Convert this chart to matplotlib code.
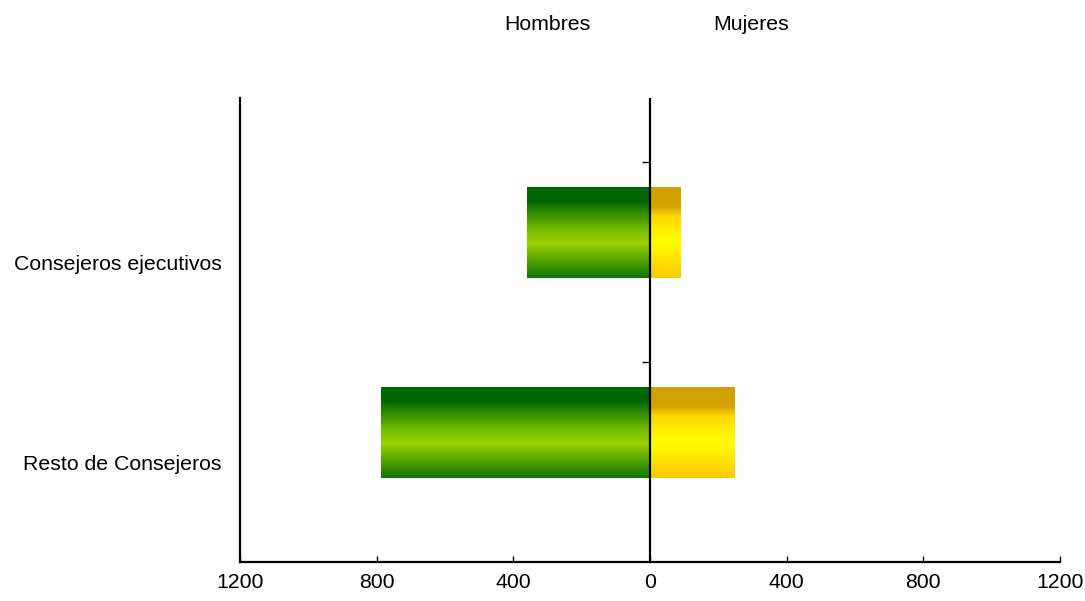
import numpy as np
import matplotlib
matplotlib.use("Agg")
import matplotlib.pyplot as plt
from matplotlib.colors import LinearSegmentedColormap
from matplotlib.patches import Rectangle
from matplotlib.ticker import FuncFormatter

plt.rcParams['font.family'] = ['Liberation Sans', 'DejaVu Sans']

categories = ["Consejeros ejecutivos", "Resto de Consejeros"]
hombres = [361, 788]
mujeres = [88, 246]
xticks = [-1200, -800, -400, 0, 400, 800, 1200]

green_cmap = LinearSegmentedColormap.from_list("g", [
    (0.0, (0/255, 105/255, 0/255)),
    (0.15, (0/255, 100/255, 0/255)),
    (0.45, (110/255, 185/255, 0/255)),
    (0.62, (155/255, 210/255, 0/255)),
    (0.82, (80/255, 160/255, 0/255)),
    (1.0, (15/255, 115/255, 10/255)),
])
yellow_cmap = LinearSegmentedColormap.from_list("y", [
    (0.0, (210/255, 160/255, 0/255)),
    (0.22, (215/255, 165/255, 0/255)),
    (0.32, (255/255, 215/255, 0/255)),
    (0.60, (255/255, 255/255, 0/255)),
    (0.85, (255/255, 220/255, 0/255)),
    (1.0, (250/255, 200/255, 0/255)),
])

W, H = 1085, 601
fig = plt.figure(figsize=(W / 100, H / 100), dpi=100)
left, right, top, bottom = 240, 1060, 98, 562
ax = fig.add_axes([left / W, (H - bottom) / H, (right - left) / W, (bottom - top) / H])

ypos = np.arange(len(categories))
offset = -0.15
height = 0.455
grad = np.linspace(0, 1, 256).reshape(-1, 1)

def gradient_bar(x0, x1, yc, cmap):
    y0 = yc + offset - height / 2
    y1 = yc + offset + height / 2
    im = ax.imshow(grad, cmap=cmap, aspect='auto', extent=[x0, x1, y1, y0],
                   interpolation='bilinear', zorder=2)
    rect = Rectangle((x0, y0), x1 - x0, y1 - y0, transform=ax.transData,
                     facecolor='none', edgecolor='none')
    ax.add_patch(rect)
    im.set_clip_path(rect)

for i, y in enumerate(ypos):
    gradient_bar(-hombres[i], 0, y, green_cmap)
    gradient_bar(0, mujeres[i], y, yellow_cmap)

ax.set_xlim(-1200, 1200)
ax.set_ylim(1.5, -0.82)

ax.axvline(0, color='black', lw=1.6, zorder=3)
ax.plot([0] * len(ypos), ypos - 0.5, marker=0, linestyle='none', color='black',
        markersize=6, markeredgewidth=1.0, zorder=3)

ax.set_xticks(xticks)
ax.xaxis.set_major_formatter(FuncFormatter(lambda v, p: f"{abs(int(v))}"))
ax.tick_params(axis='x', direction='in', length=4, width=1, labelsize=15.3, pad=8)
ax.set_yticks(ypos)
ax.set_yticklabels(categories)
ax.tick_params(axis='y', length=0, labelsize=15.3, pad=13)

for s in ['top', 'right']:
    ax.spines[s].set_visible(False)
ax.spines['left'].set_linewidth(1.6)
ax.spines['bottom'].set_linewidth(1.6)

fig.text(547 / W, 1 - 24 / H, "Hombres", ha='center', va='center', fontsize=15.3)
fig.text(751 / W, 1 - 24 / H, "Mujeres", ha='center', va='center', fontsize=15.3)

fig.savefig("out.png", dpi=100)
